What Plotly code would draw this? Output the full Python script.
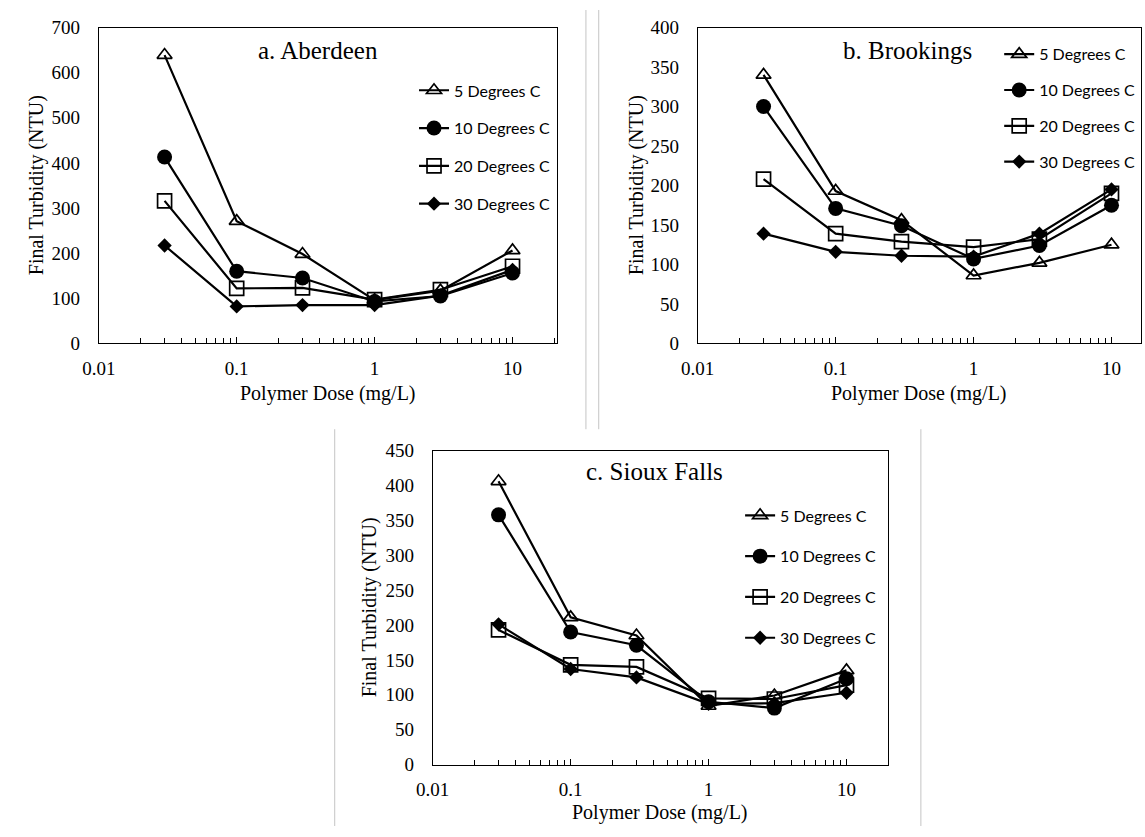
import plotly.graph_objects as go

# Polymer dose (mg/L) tested at each site
dose = [0.03, 0.1, 0.3, 1, 3, 10]
series_names = ["5 Degrees C", "10 Degrees C", "20 Degrees C", "30 Degrees C"]

# Final turbidity (NTU) by water temperature
aberdeen_5 = [639, 271, 198, 96, 117, 206]
aberdeen_10 = [413, 160, 145, 93, 105, 156]
aberdeen_20 = [316, 122, 123, 97, 119, 171]
aberdeen_30 = [217, 82, 85, 85, 106, 163]

brookings_5 = [340, 193, 156, 86, 102, 125]
brookings_10 = [300, 171, 149, 107, 124, 175]
brookings_20 = [208, 139, 129, 122, 132, 190]
brookings_30 = [139, 116, 111, 110, 139, 195]

siouxfalls_5 = [406, 211, 185, 84, 99, 135]
siouxfalls_10 = [358, 190, 171, 90, 81, 123]
siouxfalls_20 = [193, 143, 140, 95, 94, 114]
siouxfalls_30 = [201, 137, 125, 87, 88, 103]

panel_titles = ["a. Aberdeen", "b. Brookings", "c. Sioux Falls"]
x_tick_vals = [0.01, 0.1, 1, 10]
x_tick_text = ["0.01", "0.1", "1", "10"]

W, H = 1145, 837
SERIF = "Liberation Serif"
SANS = "Lato"


def px(x):
    return x / W


def py(y):
    return 1 - y / H


symbols = [
    dict(symbol="triangle-up-open", size=13, line=dict(width=1.7, color="black")),
    dict(symbol="circle", size=15, line=dict(width=0)),
    dict(symbol="square-open", size=14, line=dict(width=1.7, color="black")),
    dict(symbol="diamond", size=11, line=dict(width=0)),
]

panels = [
    dict(series=[aberdeen_5, aberdeen_10, aberdeen_20, aberdeen_30],
         left=83, right=548, top=18, bottom=342, ymax=700, dy=100,
         legend_x=403, legend_y=65, gap=14,
         title_xy=(306, 42), ytitle_x=20, xtitle_y=393),
    dict(series=[brookings_5, brookings_10, brookings_20, brookings_30],
         left=691, right=1141, top=18, bottom=342, ymax=400, dy=50,
         legend_x=997, legend_y=28, gap=12,
         title_xy=(904, 42), ytitle_x=629, xtitle_y=393),
    dict(series=[siouxfalls_5, siouxfalls_10, siouxfalls_20, siouxfalls_30],
         left=422, right=884, top=452, bottom=774, ymax=450, dy=50,
         legend_x=734, legend_y=501, gap=17,
         title_xy=(647, 473), ytitle_x=358, xtitle_y=823),
]

fig = go.Figure()
annotations = []
layout = {}
for i, p in enumerate(panels):
    n = "" if i == 0 else str(i + 1)
    leg = "legend" if i == 0 else "legend" + str(i + 1)
    for j, (vals, name) in enumerate(zip(p["series"], series_names)):
        fig.add_trace(go.Scatter(
            x=dose, y=vals, name=name, mode="lines+markers",
            line=dict(color="black", width=2.2),
            marker=dict(color="black", **symbols[j]),
            xaxis="x" + n, yaxis="y" + n,
            legend=leg, legendgroup=f"p{i}s{j}",
        ))
    # log10 of the right edge: axis spans 140 px per decade from 0.01
    decades = (p["right"] - p["left"]) / 140.0
    layout["xaxis" + n] = dict(
        type="log", range=[-2, -2 + decades],
        domain=[px(p["left"]), px(p["right"])],
        anchor="y" + n,
        tickvals=x_tick_vals, ticktext=x_tick_text,
        ticks="inside", ticklen=6, tickcolor="black", tickwidth=1,
        minor=dict(ticks="inside", ticklen=5, tickcolor="black", tickwidth=1,
                   tickvals=[m * 10 ** e for e in (-2, -1, 0, 1) for m in range(2, 10)]),
        showline=True, linecolor="black", linewidth=1, mirror=True,
        showgrid=False, zeroline=False,
        tickfont=dict(family=SERIF, size=19, color="black"),
        ticklabelstandoff=8,
    )
    layout["yaxis" + n] = dict(
        range=[0, p["ymax"]], dtick=p["dy"],
        domain=[py(p["bottom"]), py(p["top"])],
        anchor="x" + n,
        ticks="", showline=True, linecolor="black", linewidth=1, mirror=True,
        showgrid=False, zeroline=False,
        tickfont=dict(family=SERIF, size=19, color="black"),
        ticklabelstandoff=14,
    )
    layout[leg] = dict(
        x=px(p["legend_x"]), y=py(p["legend_y"]), xanchor="left", yanchor="top",
        bgcolor="rgba(0,0,0,0)", borderwidth=0,
        font=dict(family=SANS, size=16, color="black"),
        tracegroupgap=p["gap"], itemsizing="trace",
    )
    tx, ty = p["title_xy"]
    text_common = dict(xref="paper", yref="paper", showarrow=False,
                       xanchor="center", yanchor="middle")
    annotations.append(dict(text=panel_titles[i], x=px(tx), y=py(ty),
                            font=dict(family=SERIF, size=25, color="black"), **text_common))
    annotations.append(dict(text="Final Turbidity (NTU)", textangle=-90,
                            x=px(p["ytitle_x"]), y=py((p["top"] + p["bottom"]) / 2),
                            font=dict(family=SERIF, size=20, color="black"), **text_common))
    annotations.append(dict(text="Polymer Dose (mg/L)",
                            x=px((p["left"] + p["right"]) / 2), y=py(p["xtitle_y"]),
                            font=dict(family=SERIF, size=20, color="black"), **text_common))

# thin grey frames separating the three figure panels
sep = dict(type="line", xref="paper", yref="paper", line=dict(color="#c4c4c4", width=1))
shapes = [
    dict(sep, x0=px(577.5), x1=px(577.5), y0=1, y1=py(430)),
    dict(sep, x0=px(590.5), x1=px(590.5), y0=1, y1=py(430)),
    dict(sep, x0=px(322.5), x1=px(322.5), y0=py(430), y1=0),
    dict(sep, x0=px(917.5), x1=px(917.5), y0=py(430), y1=0),
]

fig.update_layout(
    width=W, height=H, margin=dict(l=0, r=0, t=0, b=0),
    paper_bgcolor="white", plot_bgcolor="white",
    showlegend=True, annotations=annotations, shapes=shapes,
    **layout,
)

fig.write_html("out.html")
